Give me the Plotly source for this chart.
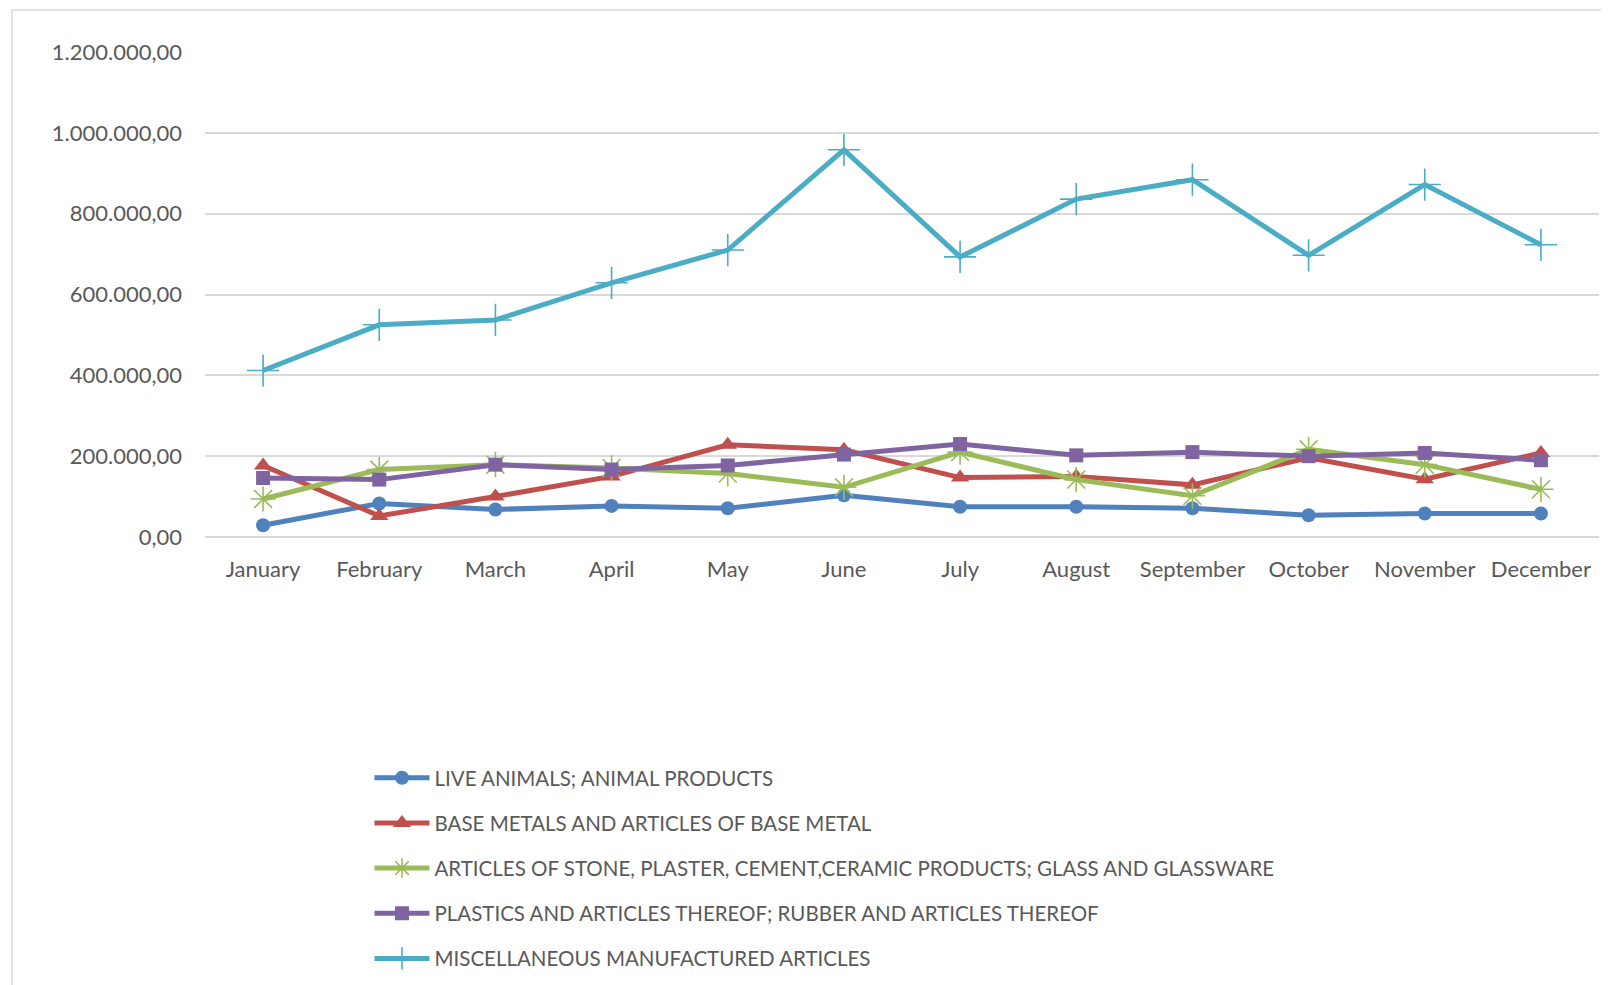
import plotly.graph_objects as go

months = ["January", "February", "March", "April", "May", "June", "July",
          "August", "September", "October", "November", "December"]

live_animals = [29000, 83000, 68000, 77000, 71000, 103000, 75000, 75000, 71000, 54000, 58000, 58000]
base_metals = [177000, 52000, 100000, 150000, 228000, 216000, 147000, 150000, 129000, 196000, 143000, 208000]
stone_glass = [94000, 167000, 179000, 171000, 157000, 123000, 210000, 142000, 102000, 217000, 179000, 118000]
plastics = [146000, 142000, 179000, 167000, 177000, 204000, 230000, 202000, 210000, 200000, 208000, 190000]
misc_articles = [412000, 525000, 537000, 629000, 710000, 958000, 693000, 836000, 884000, 697000, 872000, 723000]

names = [
    "LIVE ANIMALS; ANIMAL PRODUCTS",
    "BASE METALS AND ARTICLES OF BASE METAL",
    "ARTICLES OF STONE, PLASTER, CEMENT,CERAMIC PRODUCTS; GLASS AND GLASSWARE",
    "PLASTICS AND ARTICLES THEREOF; RUBBER AND ARTICLES THEREOF",
    "MISCELLANEOUS MANUFACTURED ARTICLES",
]
series = [live_animals, base_metals, stone_glass, plastics, misc_articles]
colors = ["#4F81BD", "#C0504D", "#9BBB59", "#8064A2", "#4BACC6"]
markers = [
    dict(symbol="circle", size=14),
    dict(symbol="triangle-up", size=16),
    dict(symbol="asterisk-open", size=21, line=dict(width=1.6)),
    dict(symbol="square", size=14),
    dict(symbol="cross-thin-open", size=23, line=dict(width=1.6)),
]

fig = go.Figure()
for i, (nm, vals, col, mk) in enumerate(zip(names, series, colors, markers)):
    m = dict(mk)
    m["color"] = col
    if "line" in m:
        m["line"] = dict(m["line"], color=col)
    fig.add_trace(go.Scatter(
        x=months, y=vals, name=nm, mode="lines+markers",
        line=dict(color=col, width=5), marker=m, legendgroup=str(i),
    ))

font_family = "Lato, 'Open Sans', sans-serif"
fig.update_layout(
    width=1601, height=977,
    margin=dict(l=197, r=10, t=44, b=448, autoexpand=False),
    paper_bgcolor="white", plot_bgcolor="white",
    separators=",.",
    font=dict(family=font_family, color="#595959", size=20.5),
    xaxis=dict(type="category", range=[-0.5, 11.5], showgrid=False, zeroline=False,
               showline=False, ticks="", tickfont=dict(size=22, color="#595959"),
               ticklabelstandoff=17),
    yaxis=dict(range=[0, 1200000], dtick=200000, tickformat=",.2f",
               showgrid=True, gridcolor="#D9D9D9", gridwidth=2,
               zeroline=True, zerolinecolor="#D9D9D9", zerolinewidth=2,
               showline=False, ticks="", tickfont=dict(size=22, color="#595959"),
               ticklabelstandoff=22),
    legend=dict(orientation="v", x=0.118, xanchor="left", y=-0.4556, yanchor="top",
                font=dict(size=20.5, color="#595959"), tracegroupgap=15.5,
                itemwidth=55, bgcolor="rgba(0,0,0,0)"),
    showlegend=True,
)
fig.add_shape(type="rect", xref="paper", yref="paper",
              x0=-0.1385, x1=1.2, y0=-1.5, y1=1.0866,
              line=dict(color="#D9D9D9", width=1.5), fillcolor="rgba(0,0,0,0)", layer="below")

fig.write_html("out.html")
